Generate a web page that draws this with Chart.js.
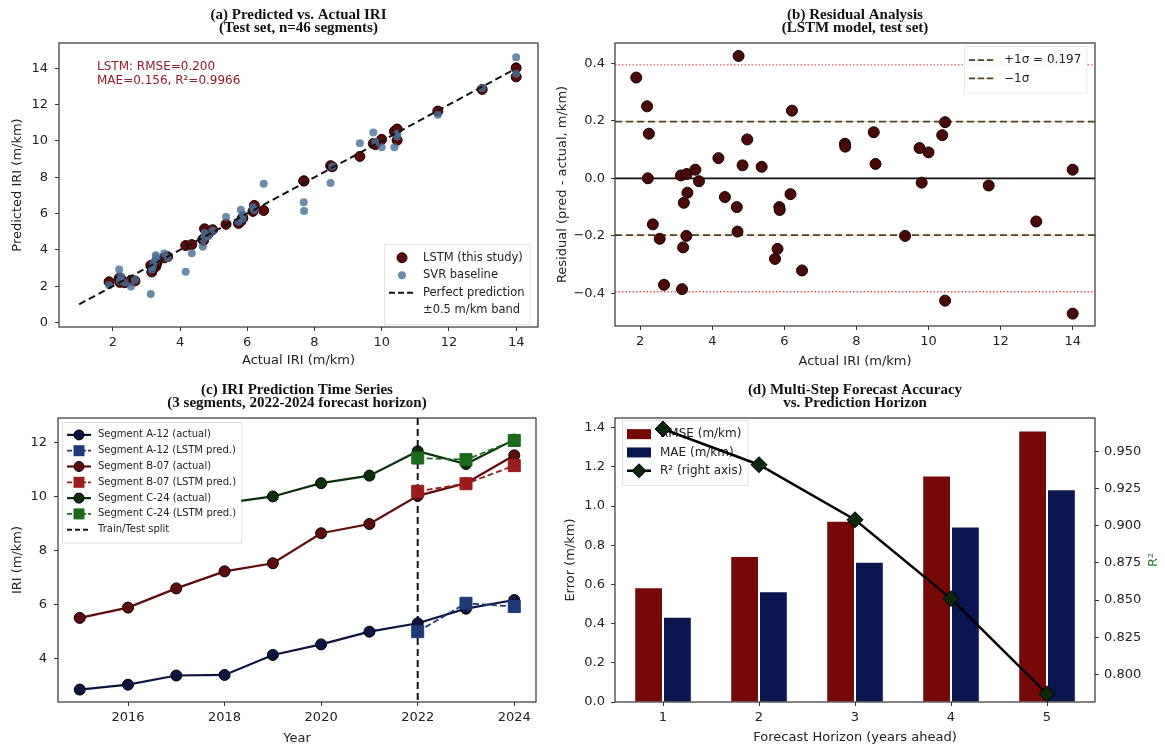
<!DOCTYPE html>
<html>
<head>
<meta charset="utf-8">
<script src="https://cdn.jsdelivr.net/npm/chart.js@4.4.0/dist/chart.umd.min.js"></script>
<style>
  body { margin: 0; background: #fff; width: 1165px; height: 747px; position: relative; overflow: hidden; }
  canvas { position: absolute; }
</style>
</head>
<body>
<canvas id="chartA" width="580" height="370" style="left:0;top:0"></canvas>
<canvas id="chartB" width="625" height="370" style="left:540px;top:0"></canvas>
<canvas id="chartC" width="580" height="377" style="left:0;top:370px"></canvas>
<canvas id="chartD" width="625" height="377" style="left:540px;top:370px"></canvas>
<script>
// ---- data (a) + (b): test set, 46 segments ----
var actualIri = [1.89, 2.19, 2.24, 2.21, 2.35, 2.54, 2.66, 3.16, 3.19, 3.28, 3.21, 3.31, 3.13, 3.29, 3.53, 3.63, 4.17, 4.35, 4.68, 4.70, 4.73, 4.84, 4.97, 5.37, 5.74, 5.81, 5.86, 5.87, 6.17, 6.21, 6.49, 7.68, 7.69, 8.48, 8.53, 9.35, 9.75, 9.81, 10.00, 10.38, 10.46, 10.46, 11.67, 12.99, 14.00, 14.00];
var lstmPred = [2.24, 2.44, 2.40, 2.21, 2.19, 2.33, 2.29, 2.78, 2.95, 3.08, 3.13, 3.26, 3.14, 3.31, 3.56, 3.62, 4.24, 4.29, 4.58, 4.52, 5.16, 4.89, 5.11, 5.41, 5.46, 5.57, 5.76, 5.76, 6.12, 6.45, 6.17, 7.80, 7.80, 8.64, 8.58, 9.15, 9.86, 9.80, 10.09, 10.53, 10.66, 10.04, 11.65, 12.84, 14.03, 13.53];
var svrPred = [2.05, 2.92, 2.55, 2.30, 2.20, 1.98, 2.35, 2.90, 3.05, 3.71, 3.30, 3.45, 1.57, 3.60, 3.80, 3.55, 2.80, 3.82, 4.17, 4.60, 4.95, 4.75, 5.05, 5.81, 5.55, 6.21, 5.70, 5.95, 6.35, 6.20, 7.64, 6.63, 6.14, 7.68, 8.60, 9.87, 10.47, 9.95, 9.65, 9.65, 10.40, 10.25, 11.45, 12.90, 14.62, 13.70];
var lstmResidual = [0.35, 0.25, 0.155, 0.00, -0.16, -0.21, -0.37, -0.385, -0.24, -0.20, -0.085, -0.05, 0.01, 0.015, 0.03, -0.01, 0.07, -0.065, -0.10, -0.185, 0.425, 0.045, 0.135, 0.04, -0.28, -0.245, -0.10, -0.11, -0.055, 0.235, -0.32, 0.12, 0.11, 0.16, 0.05, -0.20, 0.105, -0.015, 0.09, 0.15, 0.195, -0.425, -0.025, -0.15, 0.03, -0.47];
var perfectLine = [1, 14];
var oneSigma = [0.197, -0.197];
var twoSigma = [0.394, -0.394];

// ---- data (c): time series ----
var years = [2015, 2016, 2017, 2018, 2019, 2020, 2021, 2022, 2023, 2024];
var a12Actual = [2.86, 3.04, 3.38, 3.40, 4.14, 4.53, 5.00, 5.31, 5.85, 6.17];
var b07Actual = [5.51, 5.89, 6.60, 7.23, 7.53, 8.64, 8.98, 10.02, 10.49, 11.52];
var c24Actual = [8.55, 8.95, 9.35, 9.75, 10.00, 10.49, 10.77, 11.67, 11.20, 12.10];
var predYears = [2022, 2023, 2024];
var a12Pred = [5.00, 6.05, 5.93];
var b07Pred = [10.19, 10.47, 11.14];
var c24Pred = [11.42, 11.36, 12.07];
var splitYear = 2022;

// ---- data (d): multi-step horizon ----
var horizons = ['1', '2', '3', '4', '5'];
var rmseH = [0.58, 0.74, 0.92, 1.15, 1.38];
var maeH = [0.43, 0.56, 0.71, 0.89, 1.08];
var r2H = [0.965, 0.941, 0.904, 0.851, 0.787];

// ---- tick labels ----
var ticksIri = [2, 4, 6, 8, 10, 12, 14];
var ticksPredY = [0, 2, 4, 6, 8, 10, 12, 14];
var ticksResid = [-0.4, -0.2, 0, 0.2, 0.4];
var ticksYear = [2016, 2018, 2020, 2022, 2024];
var ticksIriC = [4, 6, 8, 10, 12];
var ticksErr = [0, 0.2, 0.4, 0.6, 0.8, 1.0, 1.2, 1.4];
var ticksR2 = [0.800, 0.825, 0.850, 0.875, 0.900, 0.925, 0.950];

Chart.defaults.font.family = 'DejaVu Sans';
Chart.defaults.font.size = 13;
Chart.defaults.color = '#222';
Chart.defaults.animation = false;
Chart.defaults.plugins.legend.display = false;
Chart.defaults.plugins.tooltip.enabled = false;

var TITLE_FONT = 'bold 15px "Liberation Serif"';
var minus = function (v, d) { return (v < 0 ? '\u2212' : '') + Math.abs(v).toFixed(d); };

function xy(xs, ys) { return xs.map(function (x, i) { return { x: x, y: ys[i] }; }); }

function axis(o) {
  var ticks = { padding: o.pad, autoSkip: false, maxRotation: 0, color: '#222', font: { size: 13 } };
  if (o.fmt) ticks.callback = o.fmt;
  return {
    type: o.type || 'linear',
    position: o.pos,
    min: o.min, max: o.max,
    offset: o.offset || false,
    afterFit: function (s) { if (s.isHorizontal()) s.height = o.size; else s.width = o.size; },
    afterBuildTicks: o.ticks ? function (s) { s.ticks = o.ticks.map(function (v) { return { value: v }; }); } : undefined,
    ticks: ticks,
    grid: { drawOnChartArea: false, drawTicks: true, tickLength: 4, tickColor: '#333', offset: false },
    border: { display: false },
    title: o.title ? { display: true, text: o.title, color: '#222', font: { size: 13 }, padding: o.titlePad } : { display: false }
  };
}

function marker(ctx, kind, x, y, r, fill, edge) {
  ctx.save();
  ctx.setLineDash([]);
  ctx.beginPath();
  if (kind === 'circle') ctx.arc(x, y, r, 0, Math.PI * 2);
  else if (kind === 'square') ctx.rect(x - r, y - r, 2 * r, 2 * r);
  else if (kind === 'diamond') { ctx.moveTo(x, y - r); ctx.lineTo(x + r, y); ctx.lineTo(x, y + r); ctx.lineTo(x - r, y); ctx.closePath(); }
  ctx.fillStyle = fill; ctx.fill();
  if (edge) { ctx.strokeStyle = edge; ctx.lineWidth = 1; ctx.stroke(); }
  ctx.restore();
}

function drawLegend(chart, L) {
  var ctx = chart.ctx;
  ctx.save();
  ctx.font = L.font;
  var tw = Math.max.apply(null, L.items.map(function (it) { return ctx.measureText(it.text).width; }));
  var w = L.pad * 2 + L.handleW + L.gap + tw, h = L.pad * 2 + L.rowH * L.items.length;
  ctx.fillStyle = L.bg || 'rgba(255,255,255,0.9)';
  ctx.fillRect(L.left, L.top, w, h);
  ctx.strokeStyle = L.edge; ctx.lineWidth = 1;
  ctx.strokeRect(L.left + 0.5, L.top + 0.5, w, h);
  L.items.forEach(function (it, i) {
    var cy = L.top + L.pad + L.rowH * (i + 0.5);
    var x0 = L.left + L.pad, x1 = x0 + L.handleW, cx = (x0 + x1) / 2;
    if (it.under) { ctx.strokeStyle = it.under; ctx.lineWidth = 1; ctx.setLineDash([]); ctx.beginPath(); ctx.moveTo(x0, cy); ctx.lineTo(x1, cy); ctx.stroke(); }
    if (it.line) {
      ctx.strokeStyle = it.line; ctx.lineWidth = it.lw || 2; ctx.setLineDash(it.dash || []);
      ctx.beginPath(); ctx.moveTo(x0, cy); ctx.lineTo(x1, cy); ctx.stroke(); ctx.setLineDash([]);
    }
    if (it.box) { ctx.fillStyle = it.box; ctx.fillRect(x0, cy - 5, L.handleW, 10); }
    if (it.marker) marker(ctx, it.marker, cx, cy, it.r, it.fill, it.edge);
    ctx.fillStyle = '#222'; ctx.textAlign = 'left'; ctx.textBaseline = 'middle';
    ctx.fillText(it.text, x1 + L.gap, cy);
  });
  ctx.restore();
}

var panelPlugin = {
  id: 'panel',
  beforeDatasetsDraw: function (chart, args, o) {
    var ctx = chart.ctx, a = chart.chartArea;
    ctx.save();
    ctx.beginPath(); ctx.rect(a.left, a.top, a.right - a.left, a.bottom - a.top); ctx.clip();
    (o.hLines || []).forEach(function (l) {
      var y = chart.scales.y.getPixelForValue(l.value);
      ctx.strokeStyle = l.color; ctx.lineWidth = l.width; ctx.setLineDash(l.dash || []);
      ctx.beginPath(); ctx.moveTo(a.left, y); ctx.lineTo(a.right, y); ctx.stroke();
    });
    (o.vLines || []).forEach(function (l) {
      var x = chart.scales.x.getPixelForValue(l.value);
      ctx.strokeStyle = l.color; ctx.lineWidth = l.width; ctx.setLineDash(l.dash || []);
      ctx.beginPath(); ctx.moveTo(x, a.top); ctx.lineTo(x, a.bottom); ctx.stroke();
    });
    ctx.restore();
    if (o.legend && o.legend.under) drawLegend(chart, o.legend);
  },
  afterDatasetsDraw: function (chart, args, o) {
    var ctx = chart.ctx, a = chart.chartArea;
    if (o.legend && !o.legend.under) drawLegend(chart, o.legend);
    ctx.save();
    ctx.strokeStyle = '#333'; ctx.lineWidth = 1.2; ctx.setLineDash([]);
    ctx.strokeRect(a.left, a.top, a.right - a.left, a.bottom - a.top);
    ctx.fillStyle = '#111'; ctx.font = TITLE_FONT; ctx.textAlign = 'center'; ctx.textBaseline = 'middle';
    (o.title || []).forEach(function (t, i) {
      ctx.fillText(t, (a.left + a.right) / 2, a.top - 28 + i * 13.5);
    });
    (o.notes || []).forEach(function (n) {
      ctx.fillStyle = n.color; ctx.font = n.font; ctx.textAlign = 'left';
      ctx.fillText(n.text, n.x, n.y);
    });
    if (o.sideLabel) {
      ctx.translate(o.sideLabel.x, (a.top + a.bottom) / 2);
      ctx.rotate(-Math.PI / 2);
      ctx.fillStyle = o.sideLabel.color; ctx.font = '13px "DejaVu Sans"'; ctx.textAlign = 'center';
      ctx.fillText(o.sideLabel.text, 0, 0);
    }
    ctx.restore();
  }
};

var LSTM_FILL = '#5a0a0a';
var SVR_FILL = 'rgba(72,110,150,0.8)';

// (a) PREDICTED VS ACTUAL
new Chart(document.getElementById('chartA'), {
  type: 'scatter',
  plugins: [panelPlugin],
  data: {
    datasets: [
      { data: xy(perfectLine, perfectLine), showLine: true, borderColor: '#111', borderWidth: 2, borderDash: [7, 4], pointRadius: 0, order: 0 },
      { data: xy(actualIri, svrPred), backgroundColor: SVR_FILL, borderWidth: 0, pointRadius: 4, order: 1 },
      { data: xy(actualIri, lstmPred), backgroundColor: LSTM_FILL, borderColor: '#1a0000', borderWidth: 1, pointRadius: 5, order: 2 }
    ]
  },
  options: {
    responsive: false,
    layout: { padding: { left: 0, top: 43, right: 42, bottom: 0 } },
    scales: {
      x: axis({ pos: 'bottom', min: 0.4, max: 14.65, ticks: ticksIri, size: 43, pad: 4, fmt: function (v) { return v; }, title: 'Actual IRI (m/km)', titlePad: { top: 0, bottom: 2 } }),
      y: axis({ pos: 'left', min: -0.25, max: 15.4, ticks: ticksPredY, size: 59, pad: 7, fmt: function (v) { return v; }, title: 'Predicted IRI (m/km)', titlePad: { top: 10, bottom: 0 } })
    },
    plugins: {
      panel: {
        title: ['(a) Predicted vs. Actual IRI', '(Test set, n=46 segments)'],
        notes: [
          { text: 'LSTM: RMSE=0.200', x: 97, y: 67, color: '#8f1d2c', font: '12px "DejaVu Sans"' },
          { text: 'MAE=0.156, R\u00b2=0.9966', x: 97, y: 81, color: '#8f1d2c', font: '12px "DejaVu Sans"' }
        ],
        legend: {
          left: 384, top: 244, pad: 5, rowH: 17.5, handleW: 26, gap: 8, font: '11.5px "DejaVu Sans"', edge: 'rgba(0,0,0,0.1)',
          items: [
            { text: 'LSTM (this study)', marker: 'circle', r: 5, fill: LSTM_FILL, edge: '#1a0000' },
            { text: 'SVR baseline', marker: 'circle', r: 4, fill: SVR_FILL },
            { text: 'Perfect prediction', line: '#111', lw: 2, dash: [6, 3] },
            { text: '\u00b10.5 m/km band' }
          ]
        }
      }
    }
  }
});

// (b) RESIDUALS
new Chart(document.getElementById('chartB'), {
  type: 'scatter',
  plugins: [panelPlugin],
  data: {
    datasets: [
      { data: xy(actualIri, lstmResidual), backgroundColor: '#4a0808', borderColor: '#120000', borderWidth: 1, pointRadius: 5.5 }
    ]
  },
  options: {
    responsive: false,
    layout: { padding: { left: 0, top: 43, right: 70, bottom: 0 } },
    scales: {
      x: axis({ pos: 'bottom', min: 1.3, max: 14.62, ticks: ticksIri, size: 44, pad: 4, fmt: function (v) { return v; }, title: 'Actual IRI (m/km)', titlePad: { top: 0, bottom: 1 } }),
      y: axis({ pos: 'left', min: -0.513, max: 0.47, ticks: ticksResid, size: 75, pad: 6, fmt: function (v) { return minus(v, 1); }, title: 'Residual (pred - actual, m/km)', titlePad: { top: 15, bottom: 0 } })
    },
    plugins: {
      panel: {
        title: ['(b) Residual Analysis', '(LSTM model, test set)'],
        hLines: [
          { value: 0, color: '#111', width: 1.8 },
          { value: twoSigma[0], color: 'rgba(220,60,60,0.85)', width: 1.3, dash: [1.5, 2] },
          { value: twoSigma[1], color: 'rgba(220,60,60,0.85)', width: 1.3, dash: [1.5, 2] },
          { value: oneSigma[0], color: 'rgba(235,170,60,0.55)', width: 1 },
          { value: oneSigma[1], color: 'rgba(235,170,60,0.55)', width: 1 },
          { value: oneSigma[0], color: '#4a4232', width: 1.8, dash: [7, 4] },
          { value: oneSigma[1], color: '#4a4232', width: 1.8, dash: [7, 4] }
        ],
        legend: {
          left: 424, top: 46, pad: 5, rowH: 18.3, handleW: 26, gap: 9, font: '12px "DejaVu Sans"', edge: 'rgba(0,0,0,0.08)',
          items: [
            { text: '+1\u03c3 = 0.197', under: 'rgba(235,170,60,0.55)', line: '#4a4232', lw: 1.8, dash: [6, 3] },
            { text: '\u22121\u03c3', under: 'rgba(235,170,60,0.55)', line: '#4a4232', lw: 1.8, dash: [6, 3] }
          ]
        }
      }
    }
  }
});

// (c) TIME SERIES
var colA = '#0d1440', colAp = '#1f3a78';
var colB = '#5e0b0b', colBp = '#9a1d1d';
var colC = '#0b2e0b', colCp = '#1c6a1c';
function actualSet(ys, c, ord) {
  return { data: xy(years, ys), borderColor: c, borderWidth: 2.2, pointStyle: 'circle', pointRadius: 5.5, pointBackgroundColor: c, pointBorderColor: '#000', pointBorderWidth: 1, order: ord };
}
function predSet(ys, c, ord) {
  return { data: xy(predYears, ys), borderColor: c, borderWidth: 1.8, borderDash: [6, 3], pointStyle: 'rect', pointRadius: 8.5, pointBackgroundColor: c, pointBorderColor: c, pointBorderWidth: 1, order: ord };
}
new Chart(document.getElementById('chartC'), {
  type: 'line',
  plugins: [panelPlugin],
  data: {
    datasets: [
      actualSet(a12Actual, colA, 6), predSet(a12Pred, colAp, 5),
      actualSet(b07Actual, colB, 4), predSet(b07Pred, colBp, 3),
      actualSet(c24Actual, colC, 2), predSet(c24Pred, colCp, 1)
    ]
  },
  options: {
    responsive: false,
    layout: { padding: { left: 0, top: 48, right: 44, bottom: 0 } },
    scales: {
      x: axis({ pos: 'bottom', min: 2014.55, max: 2024.45, ticks: ticksYear, size: 45, pad: 4, fmt: function (v) { return String(v); }, title: 'Year', titlePad: { top: 0, bottom: 1 } }),
      y: axis({ pos: 'left', min: 2.4, max: 12.9, ticks: ticksIriC, size: 58, pad: 7, fmt: function (v) { return v; }, title: 'IRI (m/km)', titlePad: { top: 10, bottom: 0 } })
    },
    plugins: {
      panel: {
        title: ['(c) IRI Prediction Time Series', '(3 segments, 2022-2024 forecast horizon)'],
        vLines: [{ value: splitYear, color: '#111', width: 2, dash: [7, 4] }],
        legend: {
          left: 62, top: 52, pad: 5, rowH: 15.8, handleW: 24, gap: 7, font: '10px "DejaVu Sans"', edge: 'rgba(0,0,0,0.12)', bg: '#fff',
          items: [
            { text: 'Segment A-12 (actual)', line: colA, lw: 2.2, marker: 'circle', r: 5, fill: colA, edge: '#000' },
            { text: 'Segment A-12 (LSTM pred.)', line: colAp, lw: 1.8, dash: [5, 2], marker: 'square', r: 5.5, fill: colAp },
            { text: 'Segment B-07 (actual)', line: colB, lw: 2.2, marker: 'circle', r: 5, fill: colB, edge: '#000' },
            { text: 'Segment B-07 (LSTM pred.)', line: colBp, lw: 1.8, dash: [5, 2], marker: 'square', r: 5.5, fill: colBp },
            { text: 'Segment C-24 (actual)', line: colC, lw: 2.2, marker: 'circle', r: 5, fill: colC, edge: '#000' },
            { text: 'Segment C-24 (LSTM pred.)', line: colCp, lw: 1.8, dash: [5, 2], marker: 'square', r: 5.5, fill: colCp },
            { text: 'Train/Test split', line: '#111', lw: 2, dash: [5, 3] }
          ]
        }
      }
    }
  }
});

// (d) MULTI-STEP ACCURACY
var RMSE_C = '#760808', MAE_C = '#0b1650';
new Chart(document.getElementById('chartD'), {
  type: 'bar',
  plugins: [panelPlugin],
  data: {
    labels: horizons,
    datasets: [
      { type: 'line', data: r2H, yAxisID: 'y1', borderColor: '#000', borderWidth: 2.5, pointStyle: 'rectRot', pointRadius: 8, pointBackgroundColor: '#0d260d', pointBorderColor: '#000', pointBorderWidth: 1, order: 0 },
      { data: rmseH, yAxisID: 'y', backgroundColor: RMSE_C, categoryPercentage: 0.6, barPercentage: 0.93, order: 1 },
      { data: maeH, yAxisID: 'y', backgroundColor: MAE_C, categoryPercentage: 0.6, barPercentage: 0.93, order: 2 }
    ]
  },
  options: {
    responsive: false,
    layout: { padding: { left: 0, top: 48, right: 0, bottom: 0 } },
    scales: {
      x: axis({ type: 'category', pos: 'bottom', offset: true, size: 45, pad: 4, title: 'Forecast Horizon (years ahead)', titlePad: { top: 0, bottom: 2 } }),
      y: axis({ pos: 'left', min: 0, max: 1.449, ticks: ticksErr, size: 75, pad: 6, fmt: function (v) { return v.toFixed(1); }, title: 'Error (m/km)', titlePad: { top: 23, bottom: 0 } }),
      y1: axis({ pos: 'right', min: 0.7815, max: 0.9724, ticks: ticksR2, size: 70, pad: 5, fmt: function (v) { return v.toFixed(3); } })
    },
    plugins: {
      panel: {
        title: ['(d) Multi-Step Forecast Accuracy', 'vs. Prediction Horizon'],
        sideLabel: { text: 'R\u00b2', x: 614, color: '#2e7d32' },
        legend: {
          under: true, left: 82, top: 50, pad: 5, rowH: 18.3, handleW: 24, gap: 9, font: '12px "DejaVu Sans"', edge: 'rgba(0,0,0,0.12)',
          items: [
            { text: 'RMSE (m/km)', box: RMSE_C },
            { text: 'MAE (m/km)', box: MAE_C },
            { text: 'R\u00b2 (right axis)', line: '#000', lw: 2.5, marker: 'diamond', r: 7, fill: '#0d260d', edge: '#000' }
          ]
        }
      }
    }
  }
});
</script>
</body>
</html>
